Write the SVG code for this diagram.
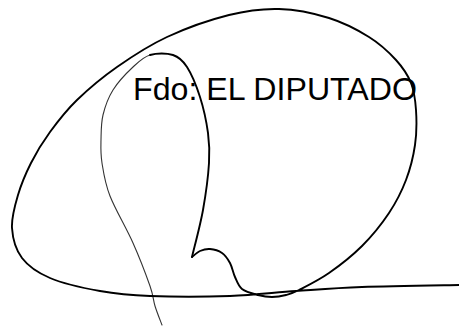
<svg xmlns="http://www.w3.org/2000/svg" width="459" height="326" viewBox="0 0 459 326">
<style>
.ink{fill:none;stroke:#000;stroke-width:1.9;stroke-linecap:round;stroke-linejoin:round}
.faint{fill:none;stroke:#333;stroke-width:1.1;stroke-linecap:round;stroke-linejoin:round}
.lbl{font-family:"Liberation Sans",Arial,sans-serif;font-size:31.5px;fill:#000}
</style>
<rect width="459" height="326" fill="#fff"/>
<g id="signature">
<path class="faint" d="M162,325 C160.8,321.8 157,312.5 155,306 C153,299.5 153.7,296.5 150,286 C146.3,275.5 139.7,258 133,243 C126.3,228 115.2,209.3 110,196 C104.8,182.7 103.5,172.3 102,163 C100.5,153.7 100.8,148 101,140 C101.2,132 101,123.3 103,115 C105,106.7 108,98 113,90 C118,82 126.8,72.8 133,67 C139.2,61.2 143.3,57 150,55"/>
<path class="ink" d="M150,55 C156.7,53 166.8,53 173,55 C179.2,57 182.5,60 187,67 C191.5,74 196.5,86 200,97 C203.5,108 206.5,122 208,133 C209.5,144 209.8,150.2 209,163 C208.2,175.8 205.8,194.3 203,210 C200.2,225.7 193.8,249.2 192,257"/>
<path class="ink" d="M192,257 C193.3,256 197,252.3 200,251 C203,249.7 206.3,248.7 210,249 C213.7,249.3 218.7,250.7 222,253 C225.3,255.3 227.8,259 230,263 C232.2,267 233,272.7 235,277 C237,281.3 238.2,286 242,289 C245.8,292 253,293.7 258,295 C263,296.3 267.3,297 272,297 C276.7,297 281.5,296.2 286,295 C290.5,293.8 291.8,293.7 299,290 C306.2,286.3 318.5,280.3 329,273 C339.5,265.7 352,256 362,246 C372,236 381.7,224 389,213 C396.3,202 401.7,191.3 406,180 C410.3,168.7 413.3,156.7 415,145 C416.7,133.3 416.7,120.3 416,110 C415.3,99.7 414.3,91.3 411,83 C407.7,74.7 403,67.7 396,60 C389,52.3 380.2,44 369,37 C357.8,30 344,22.7 329,18 C314,13.3 295.7,9.5 279,9 C262.3,8.5 247.7,10.3 229,15 C210.3,19.7 185.7,28.3 167,37 C148.3,45.7 132,56.5 117,67 C102,77.5 88.2,89.2 77,100 C65.8,110.8 57.7,121.5 50,132 C42.3,142.5 36.3,152.5 31,163 C25.7,173.5 21.2,184.2 18,195 C14.8,205.8 11.3,217.5 12,228 C12.7,238.5 15.7,249.7 22,258 C28.3,266.3 37,272.5 50,278 C63,283.5 83.3,288 100,291 C116.7,294 128.3,295.2 150,296 C171.7,296.8 205.7,296.8 230,296 C254.3,295.2 274,292.5 296,291 C318,289.5 334.8,288 362,287 C389.2,286 442.8,285.3 459,285"/>
</g>
<g id="label">
<text class="lbl" x="133" y="100" textLength="284" lengthAdjust="spacingAndGlyphs">Fdo: EL DIPUTADO</text>
</g>
</svg>
